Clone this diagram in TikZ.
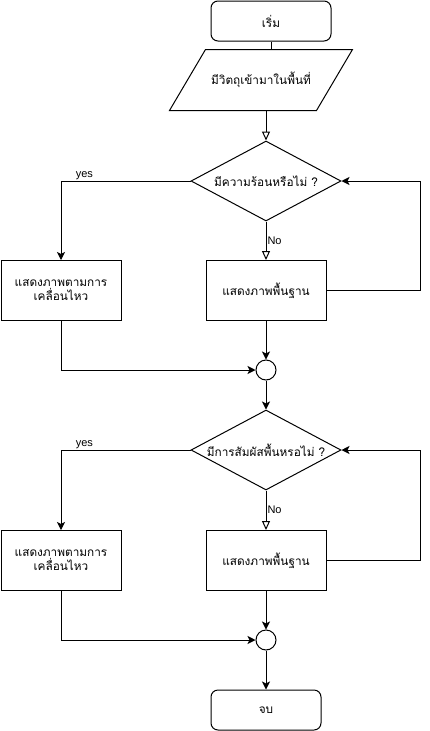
\documentclass[tikz,border=0pt]{standalone}
\usepackage{fontspec}
\setmainfont{Liberation Sans}
\newfontfamily\thaifont[Script=Thai]{Loma}
\usetikzlibrary{shapes.geometric,arrows.meta}
\tikzset{
    flow/.style={line width=1pt},
    box/.style={draw, line width=1pt, minimum width=120, minimum height=60, inner sep=2pt,
        align=center, font=\thaifont\fontsize{11.8}{14}\selectfont},
    term/.style={box, rounded corners=7, minimum height=40},
    io/.style={box, draw=none, minimum width=146, minimum height=60},
    ask/.style={box, diamond, shape aspect=1.875, inner sep=0pt, minimum width=150, minimum height=80},
    merge/.style={draw, line width=1pt, circle, minimum size=20, inner sep=0pt},
    lbl/.style={font=\fontsize{11}{13}\selectfont, inner sep=1pt},
    fill arrow/.style={flow, -{Stealth[length=8, width=8, inset=2]}},
    open arrow/.style={flow, -{Triangle[open, length=9, width=8]}},
}
\begin{document}
\begin{tikzpicture}[x=1pt,y=-1pt]
    \useasboundingbox (0,0) rectangle (429,731);
    %% nodes
    \node[term] (start) at (271,21) {เริ่ม};
    \node[io] (input) at (261,80) {มีวิตถุเข้ามาในพื้นที่};
    \draw[flow] ([xshift=-18]input.south west) -- ([xshift=-18]input.south east)
        -- ([xshift=18]input.north east) -- ([xshift=18]input.north west) -- cycle;
    \node[ask] (heat) at (266,181) {มีความร้อนหรือไม่ ?};
    \node[box] (moveA) at (61,290.5) {แสดงภาพตามการ\\เคลื่อนไหว};
    \node[box] (baseA) at (266,290.5) {แสดงภาพพื้นฐาน};
    \node[merge] (joinA) at (266,370) {};
    \node[ask] (touch) at (266,450) {มีการสัมผัสพื้นหรอไม่ ?};
    \node[box] (moveB) at (61,560.5) {แสดงภาพตามการ\\เคลื่อนไหว};
    \node[box] (baseB) at (266,560.5) {แสดงภาพพื้นฐาน};
    \node[merge] (joinB) at (266,640) {};
    \node[term, minimum width=110] (stop) at (266,710) {จบ};
    \coordinate (loopA) at (420,0);
    \coordinate (loopB) at (420,0);
    %% top
    \draw[flow] (start.south) -- (start.south |- input.north);
    \draw[open arrow] (heat.north |- input.south) -- (heat.north);
    %% first question
    \draw[fill arrow] (heat.west) -| node[lbl, above, pos=0.41] {yes} (moveA.north);
    \draw[open arrow] (heat.south) -- node[lbl, right, pos=0.5] {No} (baseA.north);
    \draw[fill arrow] (baseA.east) -- (baseA.east -| loopA) |- (heat.east);
    \draw[fill arrow] (baseA.south) -- (joinA.north);
    \draw[fill arrow] (moveA.south) |- (joinA.west);
    \draw[fill arrow] (joinA.south) -- (touch.north);
    %% second question
    \draw[fill arrow] (touch.west) -| node[lbl, above, pos=0.41] {yes} (moveB.north);
    \draw[open arrow] (touch.south) -- node[lbl, right, pos=0.5] {No} (baseB.north);
    \draw[fill arrow] (baseB.east) -- (baseB.east -| loopB) |- (touch.east);
    \draw[fill arrow] (baseB.south) -- (joinB.north);
    \draw[fill arrow] (moveB.south) |- (joinB.west);
    \draw[fill arrow] (joinB.south) -- (stop.north);
\end{tikzpicture}
\end{document}
